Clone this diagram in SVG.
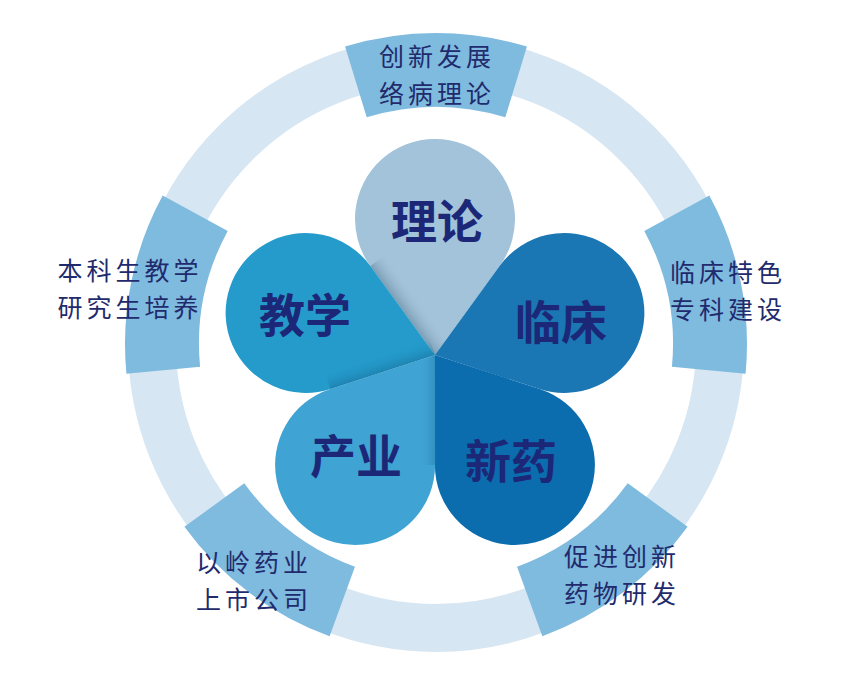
<svg xmlns="http://www.w3.org/2000/svg" width="849" height="684" viewBox="0 0 849 684">
  <style>
    .ring { fill: none; stroke: #d6e6f2; stroke-width: 48; }
    .seg { fill: #7fbadf; }
    .lbl { font-family: "Noto Sans CJK SC", "Noto Sans", sans-serif; font-size: 25px; fill: #1f2b6c; text-anchor: middle; letter-spacing: 4px; }
    .plbl { font-family: "Noto Sans CJK SC", "Noto Sans", sans-serif; font-size: 46px; font-weight: bold; fill: #1c2877; text-anchor: middle; }
  </style>
  <defs>
    <linearGradient id="sh1" gradientUnits="userSpaceOnUse" x1="402.6" y1="310.5" x2="418.8" y2="298.7">
      <stop offset="0" stop-color="#4d6f86" stop-opacity="0.45"/>
      <stop offset="1" stop-color="#a2c3d9" stop-opacity="0"/>
    </linearGradient>
    <linearGradient id="sh2" gradientUnits="userSpaceOnUse" x1="382.7" y1="372" x2="377.2" y2="355">
      <stop offset="0" stop-color="#135f8a" stop-opacity="0.4"/>
      <stop offset="1" stop-color="#249bcb" stop-opacity="0"/>
    </linearGradient>
    <linearGradient id="sh3" gradientUnits="userSpaceOnUse" x1="435" y1="410" x2="419" y2="410">
      <stop offset="0" stop-color="#1a6d98" stop-opacity="0.35"/>
      <stop offset="1" stop-color="#3fa3d3" stop-opacity="0"/>
    </linearGradient>
  </defs>
  <rect width="849" height="684" fill="#ffffff"/>

  <g id="outer-ring">
    <circle class="ring" cx="436" cy="344" r="284"/>
  </g>

  <g id="seg-theory">
    <path class="seg" d="M345.07,46.59 A311,311 0 0 1 526.93,46.59 L505.29,117.36 A237,237 0 0 0 366.71,117.36 Z"/>
    <text class="lbl" x="437" y="65.5">创新发展</text>
    <text class="lbl" x="437" y="102.5">络病理论</text>
  </g>
  <g id="seg-clinic">
    <path class="seg" d="M709.31,195.6 A311,311 0 0 1 745.57,373.81 L671.91,366.72 A237,237 0 0 0 644.28,230.91 Z"/>
    <text class="lbl" x="728" y="281.5">临床特色</text>
    <text class="lbl" x="728" y="319">专科建设</text>
  </g>
  <g id="seg-drug">
    <path class="seg" d="M687.6,526.8 A311,311 0 0 1 542.37,636.24 L517.06,566.71 A237,237 0 0 0 627.74,483.31 Z"/>
    <text class="lbl" x="622" y="565.5">促进创新</text>
    <text class="lbl" x="622" y="602.5">药物研发</text>
  </g>
  <g id="seg-industry">
    <path class="seg" d="M329.63,636.24 A311,311 0 0 1 184.4,526.8 L244.26,483.31 A237,237 0 0 0 354.94,566.71 Z"/>
    <text class="lbl" x="254" y="571.5">以岭药业</text>
    <text class="lbl" x="254" y="608.5">上市公司</text>
  </g>
  <g id="seg-teaching">
    <path class="seg" d="M126.43,373.81 A311,311 0 0 1 162.69,195.6 L227.72,230.91 A237,237 0 0 0 200.09,366.72 Z"/>
    <text class="lbl" x="130" y="279.5">本科生教学</text>
    <text class="lbl" x="130" y="316.5">研究生培养</text>
  </g>

  <g id="petal-theory">
    <path d="M435,355 L370.3,266 A80,80 0 1 1 499.7,266 Z" fill="#a2c3d9"/>
    <path d="M435,355 L370.3,266 L390.5,251.3 L455,340 Z" fill="url(#sh1)"/>
    <text class="plbl" x="437" y="238">理论</text>
  </g>
  <g id="petal-clinic">
    <path d="M435,355 L499.6,266 A80,80 0 1 1 539.6,389 Z" fill="#1b76b4"/>
    <text class="plbl" x="561" y="339">临床</text>
  </g>
  <g id="petal-drug">
    <path d="M435,355 L539.6,388.9 A80,80 0 1 1 434.9,465 Z" fill="#0b6cae"/>
    <text class="plbl" x="511" y="478">新药</text>
  </g>
  <g id="petal-industry">
    <path d="M435,355 L435.1,465 A80,80 0 1 1 330.4,388.9 Z" fill="#3fa3d3"/>
    <path d="M435,355 L435.1,465 L415,465 L415,365 Z" fill="url(#sh3)"/>
    <text class="plbl" x="356" y="473">产业</text>
  </g>
  <g id="petal-teaching">
    <path d="M435,355 L330.4,389 A80,80 0 1 1 370.4,266 Z" fill="#249bcb"/>
    <path d="M435,355 L330.4,389 L324,369 L428,336 Z" fill="url(#sh2)"/>
    <text class="plbl" x="305" y="332">教学</text>
  </g>
</svg>
